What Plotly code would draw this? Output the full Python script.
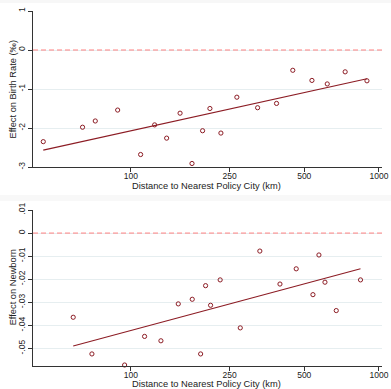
import numpy as np
import plotly.graph_objects as go

# ---- data ----
dist_birth = [44.3, 63.8, 71.8, 88.4, 109.4, 124.6, 139.3, 157.8, 176.3, 194.5,
              208.2, 230.6, 267.4, 324.2, 386.5, 449.5, 537, 619, 731, 895]
effect_birth = [-2.35, -1.98, -1.82, -1.54, -2.68, -1.92, -2.26, -1.62, -2.91, -2.07,
                -1.50, -2.13, -1.21, -1.48, -1.37, -0.52, -0.78, -0.87, -0.56, -0.79]

dist_newborn = [58.5, 69.6, 94.3, 113.5, 132.1, 155.2, 176.7, 191, 200, 209.5,
                229, 276, 331, 399, 464, 542, 573, 606, 673, 843]
effect_newborn = [-0.0365, -0.0524, -0.0572, -0.0448, -0.0467, -0.0307, -0.0287, -0.0524,
                  -0.0228, -0.0313, -0.0203, -0.0411, -0.0078, -0.0221, -0.0155, -0.0267,
                  -0.0095, -0.0213, -0.0336, -0.0203]

x_ticks = [100, 250, 500, 1000]
y1_ticks = [1, 0, -1, -2, -3]
y1_labels = ["1", "0", "-1", "-2", "-3"]
y2_ticks = [0.01, 0, -0.01, -0.02, -0.03, -0.04, -0.05]
y2_labels = [".01", "0", "-.01", "-.02", "-.03", "-.04", "-.05"]

x_title = "Distance to Nearest Policy City (km)"
y1_title = "Effect on Birth Rate (‰)"
y2_title = "Effect on Newborn"

MAROON = "#8c1c24"
DASH = "#ff8080"
AXIS = "#333333"
GRID = "#e6eef0"
TXT = "#222222"
FONT = "Liberation Sans, Arial, sans-serif"


def fit_line(x, y):
    lx = np.log10(np.asarray(x, float))
    b, a = np.polyfit(lx, np.asarray(y, float), 1)
    xs = np.array([lx.min(), lx.max()])
    return 10 ** xs, a + b * xs


fig = go.Figure()
panels = [
    (dist_birth, effect_birth, "x", "y"),
    (dist_newborn, effect_newborn, "x2", "y2"),
]
for xd, yd, xa, ya in panels:
    fx, fy = fit_line(xd, yd)
    fig.add_trace(go.Scatter(x=fx, y=fy, mode="lines", xaxis=xa, yaxis=ya,
                             line=dict(color=MAROON, width=1.1), showlegend=False,
                             hoverinfo="skip"))
    fig.add_trace(go.Scatter(x=xd, y=yd, mode="markers", xaxis=xa, yaxis=ya,
                             marker=dict(symbol="circle-open", size=4.2, color=MAROON,
                                         line=dict(width=1, color=MAROON)),
                             showlegend=False, cliponaxis=False))

W, H = 391, 389
xdom = [33 / W, 381.5 / W]
y1dom = [(H - 167) / H, (H - 11) / H]
y2dom = [(H - 365.7) / H, (H - 210) / H]
xrange_log = [1.605, 3.0105]

common_x = dict(type="log", range=xrange_log, domain=xdom, tickvals=x_ticks,
                ticktext=[str(v) for v in x_ticks], ticks="outside", ticklen=4,
                tickcolor=AXIS, tickwidth=1, showline=True, linecolor=AXIS,
                linewidth=1, showgrid=False, zeroline=False, automargin=False,
                ticklabelstandoff=-3,
                tickfont=dict(size=8.5, color=TXT, family=FONT))
common_y = dict(ticks="outside", ticklen=4, tickcolor=AXIS, tickwidth=1,
                showline=True, linecolor=AXIS, linewidth=1, showgrid=True,
                gridcolor=GRID, gridwidth=1, zeroline=False, automargin=False,
                tickangle=-90, tickfont=dict(size=8.5, color=TXT, family=FONT))

title_font = dict(size=9.3, color=TXT, family=FONT)
annotations = [
    dict(text=x_title, xref="paper", yref="paper", x=(xdom[0] + xdom[1]) / 2 - 0.002,
         y=(H - 186) / H, xanchor="center", yanchor="middle", showarrow=False,
         font=title_font),
    dict(text=x_title, xref="paper", yref="paper", x=(xdom[0] + xdom[1]) / 2 - 0.002,
         y=(H - 383.5) / H, xanchor="center", yanchor="middle", showarrow=False,
         font=title_font),
    dict(text=y1_title, xref="paper", yref="paper", x=12.5 / W,
         y=(y1dom[0] + y1dom[1]) / 2, xanchor="center", yanchor="middle",
         textangle=-90, showarrow=False, font=title_font),
    dict(text=y2_title, xref="paper", yref="paper", x=12.5 / W,
         y=(y2dom[0] + y2dom[1]) / 2, xanchor="center", yanchor="middle",
         textangle=-90, showarrow=False, font=title_font),
]

fig.update_layout(
    width=W, height=H,
    margin=dict(l=0, r=0, t=0, b=0),
    paper_bgcolor="white", plot_bgcolor="white",
    font=dict(family=FONT),
    xaxis=dict(common_x, anchor="y"),
    xaxis2=dict(common_x, anchor="y2"),
    yaxis=dict(common_y, domain=y1dom, range=[-3, 1], tickvals=y1_ticks,
               ticktext=y1_labels, anchor="x"),
    yaxis2=dict(common_y, domain=y2dom, range=[-0.0575, 0.01], tickvals=y2_ticks,
                ticktext=y2_labels, anchor="x2"),
    annotations=annotations,
    shapes=[
        dict(type="line", xref="x domain", yref="y", x0=0, x1=1.005, y0=0, y1=0,
             line=dict(color=DASH, width=1, dash="5px,3px")),
        dict(type="line", xref="x2 domain", yref="y2", x0=0, x1=1.005, y0=0, y1=0,
             line=dict(color=DASH, width=1, dash="5px,3px")),
        dict(type="rect", xref="paper", yref="paper", x0=0, x1=1, y0=(H - 3) / H, y1=1,
             fillcolor="#f7f7f7", line=dict(width=0), layer="below"),
        dict(type="rect", xref="paper", yref="paper", x0=0, x1=1, y0=(H - 201) / H,
             y1=(H - 195) / H, fillcolor="#f8f8f8", line=dict(width=0), layer="below"),
    ],
)

fig.write_html("out.html", config={"displayModeBar": False},
               post_script="document.body.style.margin='0';"
                           "document.body.style.overflow='hidden';")
